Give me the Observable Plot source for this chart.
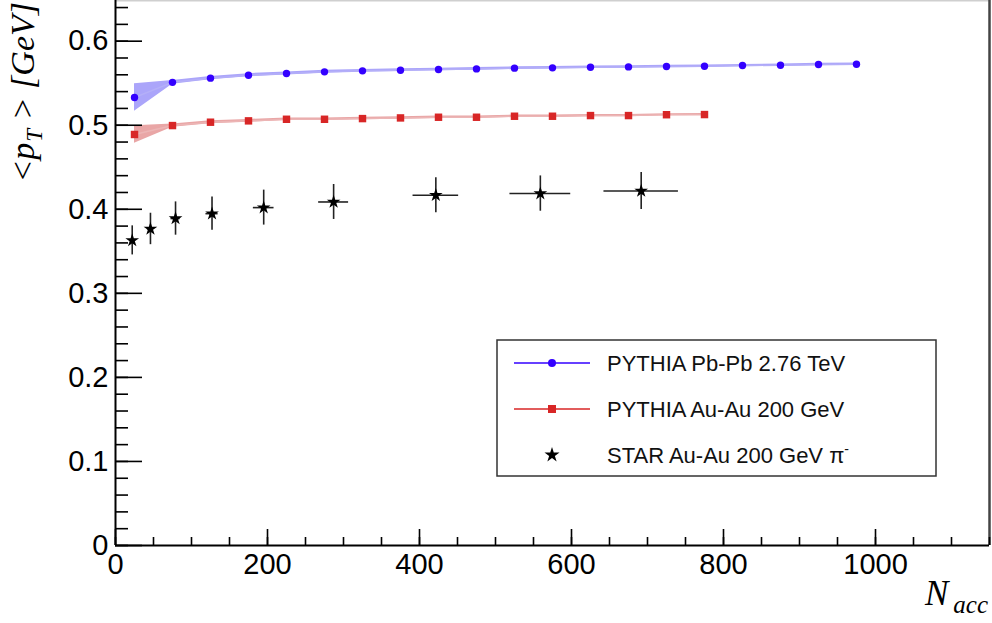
<!DOCTYPE html>
<html><head><meta charset="utf-8">
<script src="https://cdn.jsdelivr.net/npm/d3@7"></script>
<script src="https://cdn.jsdelivr.net/npm/@observablehq/plot@0.6"></script>
<style>body{margin:0;background:#fff}#chart{width:992px;height:623px}</style>
</head><body><div id="chart"></div>
<script>
// ---- data ----
const pbpbN   = [25,75,125,175,225,275,325,375,425,475,525,575,625,675,725,775,825,875,925,975];
const pbpbPt  = [0.533,0.551,0.556,0.5595,0.5615,0.5635,0.5647,0.5655,0.5663,0.567,0.5679,0.5683,0.569,0.5694,0.5698,0.5702,0.571,0.5714,0.5722,0.5726];
const pbpbErr = [0.0165,0.0022,0.002,0.0019,0.0018,0.0018,0.0017,0.0017,0.0016,0.0016,0.0016,0.0015,0.0015,0.0015,0.0015,0.0015,0.0014,0.0014,0.0014,0.0014];
const auauN   = [25,75,125,175,225,275,325,375,425,475,525,575,625,675,725,775];
const auauPt  = [0.489,0.4996,0.5036,0.5052,0.5071,0.5071,0.5079,0.5087,0.5095,0.5095,0.5107,0.5107,0.5115,0.5115,0.5125,0.5127];
const auauErr = [0.0105,0.002,0.0018,0.0017,0.0016,0.0016,0.0015,0.0015,0.0015,0.0014,0.0014,0.0014,0.0014,0.0013,0.0013,0.0013];
const starN    = [22,46,79,127,195,287,421.5,559,691.7];
const starPt   = [0.363,0.3766,0.389,0.3948,0.402,0.4087,0.4167,0.4187,0.4218];
const starErrY = [0.0173,0.0187,0.0198,0.0198,0.0208,0.0208,0.0208,0.021,0.022];
const starErrX = [3,4,6,8,13.6,19.7,30,40,49];
const xMajor = [0,200,400,600,800,1000];
const xMinor = [0,50,100,150,200,250,300,350,400,450,500,550,600,650,700,750,800,850,900,950,1000,1050,1100,1150];
const yMajor = [0,0.1,0.2,0.3,0.4,0.5,0.6];
const yMinor = [0,0.02,0.04,0.06,0.08,0.1,0.12,0.14,0.16,0.18,0.2,0.22,0.24,0.26,0.28,0.3,0.32,0.34,0.36,0.38,0.4,0.42,0.44,0.46,0.48,0.5,0.52,0.54,0.56,0.58,0.6,0.62,0.64];
const legendLabels = ["PYTHIA Pb-Pb 2.76 TeV","PYTHIA Au-Au 200 GeV","STAR Au-Au 200 GeV "];
const xDomain = [0,1150];
const yDomain = [0,0.6484];

// ---- tables ----
const pbpb = pbpbN.map((n,i)=>({n, pt:pbpbPt[i], lo:pbpbPt[i]-pbpbErr[i], hi:pbpbPt[i]+pbpbErr[i]}));
const auau = auauN.map((n,i)=>({n, pt:auauPt[i], lo:auauPt[i]-auauErr[i], hi:auauPt[i]+auauErr[i]}));
const star = starN.map((n,i)=>({n, pt:starPt[i], ylo:starPt[i]-starErrY[i], yhi:starPt[i]+starErrY[i], xlo:n-starErrX[i], xhi:n+starErrX[i]}));

const W=992, H=623, mL=115, mR=3, mT=0, mB=78;
const pw = W-mL-mR, ph = H-mT-mB;
const blue="#3300ff", blueBand="#aba5fa", blueLine="#b4aff8", red="#d82626", redBand="#e9a6a6", redLine="#ecb5b5";
const sans = "'Liberation Sans', Arial, sans-serif";

const plot = Plot.plot({
  width:W, height:H, marginLeft:mL, marginRight:mR, marginTop:mT, marginBottom:mB,
  x:{domain:xDomain, label:null}, y:{domain:yDomain, label:null},
  style:{fontFamily:sans, background:"white", color:"black", overflow:"visible"},
  marks:[
    Plot.areaY(pbpb,{x:"n", y1:"lo", y2:"hi", fill:blueBand}),
    Plot.lineY(pbpb,{x:"n", y:"pt", stroke:blueLine, strokeWidth:1.5}),
    Plot.dot(pbpb,{x:"n", y:"pt", r:3.7, fill:blue, stroke:"none", symbol:"circle"}),
    Plot.areaY(auau,{x:"n", y1:"lo", y2:"hi", fill:redBand}),
    Plot.lineY(auau,{x:"n", y:"pt", stroke:redLine, strokeWidth:1.5}),
    Plot.dot(auau,{x:"n", y:"pt", r:4.2, fill:red, stroke:"none", symbol:"square"}),
    Plot.ruleX(star,{x:"n", y1:"ylo", y2:"yhi", stroke:"#222", strokeWidth:1.6}),
    Plot.ruleY(star,{y:"pt", x1:"xlo", x2:"xhi", stroke:"#222", strokeWidth:1.6}),
    Plot.dot(star,{x:"n", y:"pt", r:4.3, fill:"black", stroke:"none", symbol:"star"}),
    // frame
    Plot.ruleY([yDomain[1]],{stroke:"#cfcfcf", strokeWidth:2}),
    Plot.ruleX([xDomain[1]],{stroke:"#444", strokeWidth:2.5}),
    Plot.ruleX([0],{stroke:"black", strokeWidth:2}),
    Plot.ruleY([0],{stroke:"black", strokeWidth:2}),
    // ticks (inside)
    Plot.tickX(xMajor,{x:d=>d, insetTop:ph-16, stroke:"black", strokeWidth:1.6}),
    Plot.tickX(xMinor,{x:d=>d, insetTop:ph-8, stroke:"black", strokeWidth:1.6}),
    Plot.tickY(yMajor,{y:d=>d, insetRight:pw-27, stroke:"black", strokeWidth:1.6}),
    Plot.tickY(yMinor,{y:d=>d, insetRight:pw-13, stroke:"black", strokeWidth:1.6}),
    Plot.axisX({ticks:xMajor, tickSize:0, tickPadding:8, fontSize:29, tickFormat:d=>String(d)}),
    Plot.axisY({ticks:yMajor, tickSize:0, tickPadding:7, fontSize:29, tickFormat:d=>d===0?"0":d.toFixed(1)})
  ]
});
document.getElementById("chart").appendChild(plot);

// ---- titles & legend ----
const svg = d3.select(plot);
const serif = "'Liberation Serif','Times New Roman',serif";
const yt = svg.append("text").attr("transform","translate(34,2) rotate(-90)")
  .attr("text-anchor","end").attr("font-family",serif).attr("font-style","italic").attr("font-size",34).attr("fill","black");
yt.append("tspan").text("<p");
yt.append("tspan").attr("font-size",23).attr("dy",8).attr("dx",1).text("T");
yt.append("tspan").attr("dy",-8).text(" > [GeV]");

const xt = svg.append("text").attr("x",988).attr("y",605).attr("text-anchor","end")
  .attr("font-family",serif).attr("font-style","italic").attr("font-size",35).attr("fill","black");
xt.append("tspan").text("N");
xt.append("tspan").attr("font-size",25).attr("dy",8).attr("dx",5).text("acc");

const lg = svg.append("g");
lg.append("rect").attr("x",497).attr("y",340).attr("width",439).attr("height",136)
  .attr("fill","white").attr("stroke","#333").attr("stroke-width",1.5);
const rows = [363,409,455];
const lx1=514, lx2=590, lm=552, tx=607;
lg.append("line").attr("x1",lx1).attr("x2",lx2).attr("y1",rows[0]).attr("y2",rows[0]).attr("stroke",blue).attr("stroke-width",1.3);
lg.append("circle").attr("cx",lm).attr("cy",rows[0]).attr("r",4).attr("fill",blue);
lg.append("line").attr("x1",lx1).attr("x2",lx2).attr("y1",rows[1]).attr("y2",rows[1]).attr("stroke",red).attr("stroke-width",1.3);
lg.append("rect").attr("x",lm-4).attr("y",rows[1]-4).attr("width",8).attr("height",8).attr("fill",red);
lg.append("path").attr("d",d3.symbol(d3.symbolStar,70)()).attr("transform",`translate(${lm},${rows[2]})`).attr("fill","black");
legendLabels.forEach((t,i)=>{
  const el = lg.append("text").attr("x",tx).attr("y",rows[i]).attr("dy","0.36em").attr("text-anchor","start")
    .attr("font-family",sans).attr("font-size",22).attr("fill","#111");
  el.append("tspan").text(t);
  if(i===2){
    el.append("tspan").attr("font-size",22).text("π");
    el.append("tspan").attr("font-size",14).attr("dy",-9).text("-");
  }
});
</script></body></html>
